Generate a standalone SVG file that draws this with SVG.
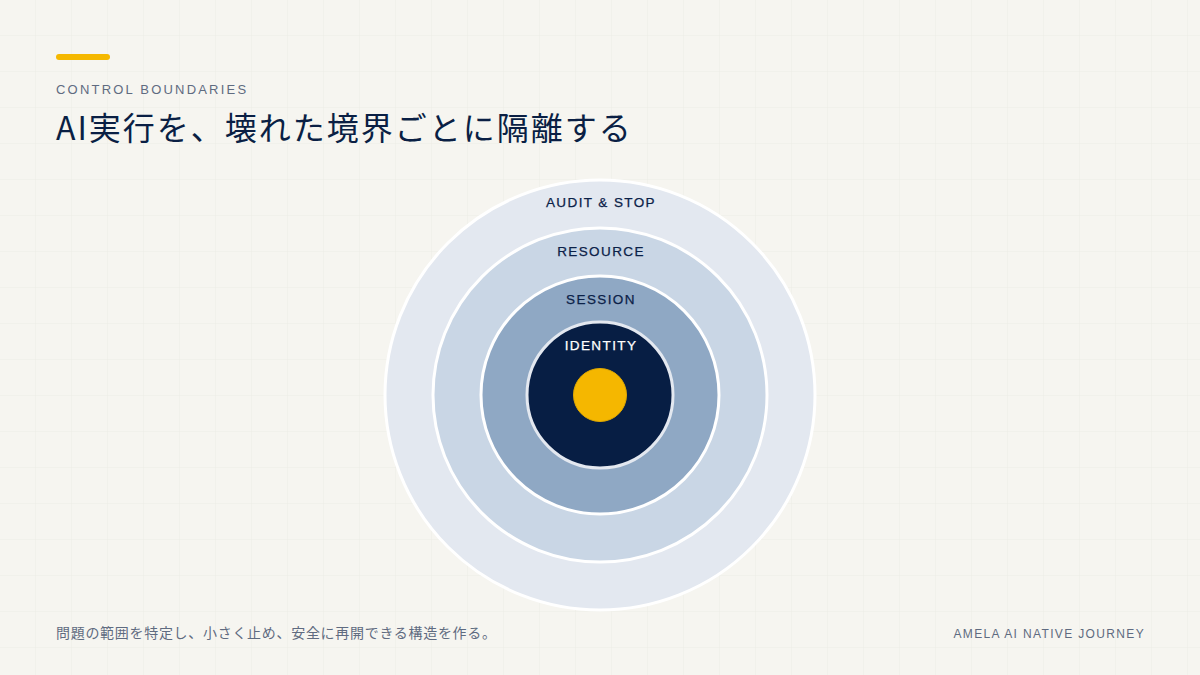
<svg xmlns="http://www.w3.org/2000/svg" width="1200" height="675" viewBox="0 0 1200 675">
<defs>
<pattern id="grid" width="36" height="36" patternUnits="userSpaceOnUse">
<path d="M36 0 V36 M0 36 H36" fill="none" stroke="#edece6" stroke-width="1"/>
</pattern>
<style>
.lat{font-family:"Liberation Sans",Arial,sans-serif}
.jp{font-family:"Noto Sans CJK JP","Noto Sans",sans-serif}
.eyebrow{font-size:13px;letter-spacing:2.2px;fill:#5f6b80}
.ring{stroke:#ffffff;stroke-width:3}
.rl{font-size:13.5px;letter-spacing:1.4px;fill:#0b2148;text-anchor:middle;stroke:#0b2148;stroke-width:0.25}
</style>
</defs>
<rect width="1200" height="675" fill="#f6f5f0"/>
<rect width="1200" height="675" fill="url(#grid)"/>
<g id="header">
<rect x="56" y="54" width="54" height="6" rx="3" fill="#f5b800"/>
<text class="lat eyebrow" x="56" y="94">CONTROL BOUNDARIES</text>
<text class="jp" x="56" y="140" font-size="32" letter-spacing="2" fill="#0a1f44">AI実行を、壊れた境界ごとに隔離する</text>
</g>
<g id="audit-stop">
<circle class="ring" cx="600" cy="395" r="215" fill="#e3e8f0"/>
<text class="lat rl" x="601" y="207">AUDIT &amp; STOP</text>
</g>
<g id="resource">
<circle class="ring" cx="600" cy="395" r="167" fill="#c9d6e5"/>
<text class="lat rl" x="601" y="256">RESOURCE</text>
</g>
<g id="session">
<circle class="ring" cx="600" cy="395" r="119" fill="#8fa8c4"/>
<text class="lat rl" x="601" y="304">SESSION</text>
</g>
<g id="identity">
<circle cx="600" cy="395" r="73" fill="#071e44" stroke="#e3e8f0" stroke-width="3"/>
<text class="lat rl" x="601" y="350" style="fill:#ffffff;stroke:#ffffff">IDENTITY</text>
</g>
<g id="core">
<circle cx="600" cy="395" r="26.5" fill="#f5b700" stroke="#e0a800" stroke-width="1"/>
</g>
<g id="connectors"></g>
<g id="footer">
<text class="jp" x="56" y="638" font-size="14" letter-spacing="0.7" fill="#5f6b80">問題の範囲を特定し、小さく止め、安全に再開できる構造を作る。</text>
<text class="lat" x="1145" y="638" font-size="12" letter-spacing="1.35" fill="#5f6b80" text-anchor="end">AMELA AI NATIVE JOURNEY</text>
</g>
</svg>
